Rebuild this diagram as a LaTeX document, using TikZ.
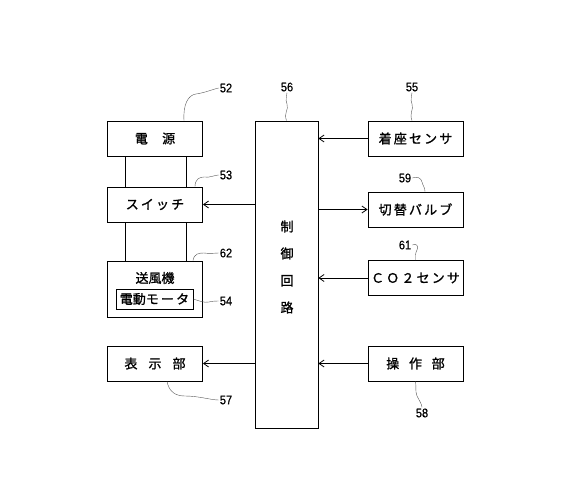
\documentclass[tikz,border=0pt]{standalone}
\usepackage{fontspec}
\setmainfont{Liberation Sans}
\newfontfamily\jpfont[FakeBold=1.2]{Noto Sans CJK JP}
\newfontfamily\numfont[FakeStretch=0.88,FakeBold=0.8]{Liberation Sans}
\usetikzlibrary{arrows.meta}
\tikzset{>={Straight Barb[length=5pt,width=7pt]}}
\colorlet{penColor}{black}
\colorlet{leadColor}{black!65}
\tikzset{
  box/.style={draw=penColor,thick,inner sep=0pt,minimum width=95pt,minimum height=35pt,font=\jpfont\fontsize{13}{14}\selectfont},
  num/.style={inner sep=1pt,font=\numfont\fontsize{12.5}{13}\selectfont},
  lead/.style={leadColor,thin},
  link/.style={penColor,thick,->}
}

\begin{document}
\begin{tikzpicture}[x=1pt,y=-1pt]
      \useasboundingbox (0,0) rectangle (567,484);
      \node [box] (power) at (155,138.5) {電\hspace{1.1em}源};
      \node [box] (switch) at (155,204.5) {ス\,イ\,ッ\,チ};
      \node [box,minimum height=56pt] (fan) at (155,289) {};
      \node [font=\jpfont\fontsize{13}{14}\selectfont,inner sep=0pt] (fanlabel) at (155,278) {送風機};
      \node [box,minimum width=77pt,minimum height=20pt] (motor) at (154.5,299) {電動モ\,ー\,タ};
      \node [box] (display) at (155,363.5) {表\hspace{0.85em}示\hspace{0.85em}部};
      \node [box,minimum width=63pt,minimum height=307pt] (ctrl) at (286.5,274.5) {};
      \node [align=center,font=\jpfont\fontsize{13}{27}\selectfont] (ctrllabel) at (287,267) {制\\御\\回\\路};
      \node [box] (seat) at (415.5,138.5) {着\,座\,セ\,ン\,サ};
      \node [box] (valve) at (415.5,209.5) {切\,替\,バ\,ル\,ブ};
      \node [box] (co2) at (415.5,278) {Ｃ\,Ｏ\,２\,セ\,ン\,サ};
      \node [box] (panel) at (415.5,363.5) {操\hspace{0.75em}作\hspace{0.75em}部};

      \draw [penColor,thick] ([xshift=-30pt]power.south) -- ([xshift=-30pt]switch.north);
      \draw [penColor,thick] ([xshift=31pt]power.south) -- ([xshift=31pt]switch.north);
      \draw [penColor,thick] ([xshift=-30pt]switch.south) -- ([xshift=-30pt]fan.north);
      \draw [penColor,thick] ([xshift=31pt]switch.south) -- ([xshift=31pt]fan.north);

      \draw [link] (seat.west) -- (seat.west -| ctrl.east);
      \draw [link] (ctrl.west |- switch.east) -- (switch.east);
      \draw [link] (ctrl.east |- valve.west) -- (valve.west);
      \draw [link] (co2.west) -- (co2.west -| ctrl.east);
      \draw [link] (panel.west) -- (panel.west -| ctrl.east);
      \draw [link] (ctrl.west |- display.east) -- (display.east);

      \node [num] (n52) at (226,88) {52};
      \node [num] (n53) at (226,175) {53};
      \node [num] (n62) at (226,253) {62};
      \node [num] (n54) at (226,301) {54};
      \node [num] (n57) at (226,400) {57};
      \node [num] (n56) at (287,87) {56};
      \node [num] (n55) at (412,87) {55};
      \node [num] (n59) at (405,178) {59};
      \node [num] (n61) at (405,245) {61};
      \node [num] (n58) at (422,413) {58};

      \draw [lead] ([xshift=29pt]power.north) .. controls +(-1,-16) and +(-8,1) .. (196,94) .. controls +(8,-1) and +(-5,1) .. (n52.west);
      \draw [lead] ([xshift=40pt]switch.north) .. controls +(0,-7) and +(-5,0) .. (204,177) .. controls +(6,1) and +(-4,0) .. (n53.west);
      \draw [lead] ([xshift=38pt]fan.north) .. controls +(1,-7) and +(-5,0) .. (204,253) .. controls +(6,1) and +(-4,0) .. (n62.west);
      \draw [lead] (motor.east) .. controls +(6,2) and +(-5,1) .. (209,302) .. controls +(4,-1) and +(-3,0) .. (n54.west);
      \draw [lead] ([xshift=12pt]display.south) .. controls +(2,10) and +(-10,0) .. (185,396) .. controls +(14,0) and +(-8,0) .. (n57.west);
      \draw [lead] (ctrl.north) .. controls +(-3,-8) and +(2,6) .. (287,104) .. controls +(-2,-5) and +(0,4) .. (n56.south);
      \draw [lead] ([xshift=-3.5pt]seat.north) .. controls +(-3,-8) and +(2,6) .. (412,104) .. controls +(-2,-5) and +(0,4) .. (n55.south);
      \draw [lead] (n59.east) .. controls +(5,-2) and +(-1,-4) .. (422,182) .. controls +(1,4) and +(0,-4) .. ([xshift=9.5pt]valve.north);
      \draw [lead] (n61.east) .. controls +(4,-2) and +(2,-4) .. (417,250) .. controls +(-2,4) and +(0,-4) .. (co2.north);
      \draw [lead] (panel.south) .. controls +(1,8) and +(-2,-6) .. (417,396) .. controls +(2,4) and +(0,-3) .. (n58.north);
    \end{tikzpicture}
\end{document}
